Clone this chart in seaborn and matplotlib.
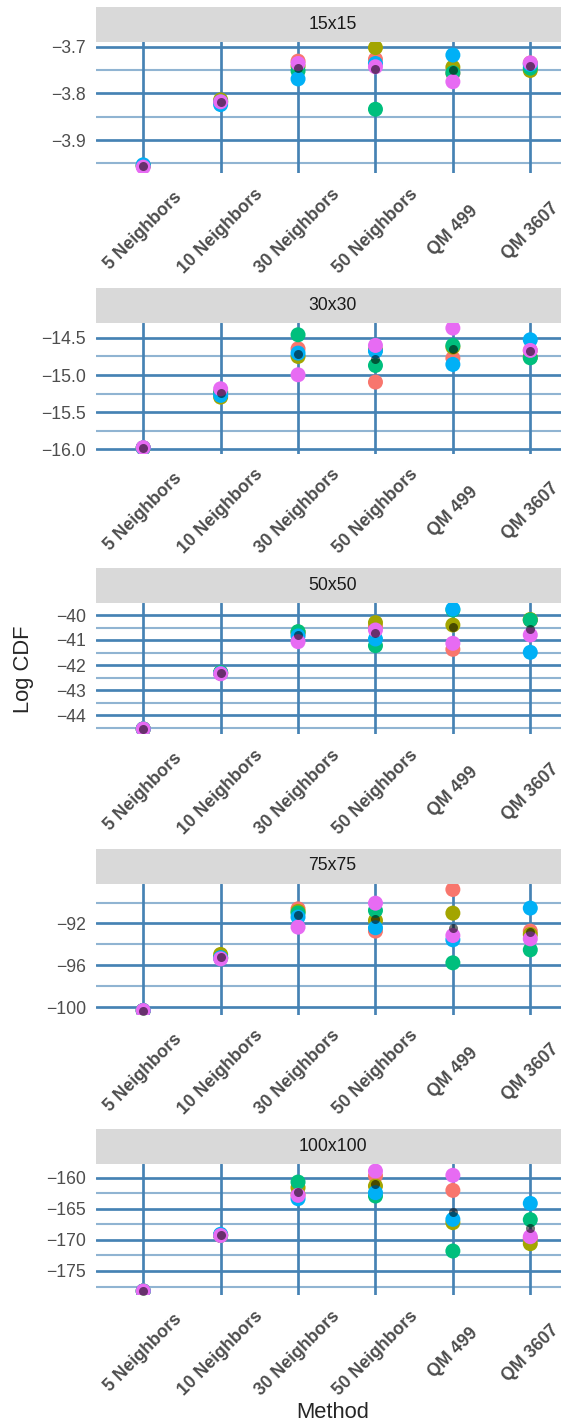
import matplotlib
matplotlib.use("Agg")
import matplotlib.pyplot as plt
import pandas as pd
import seaborn as sns

# --- data ---
methods = ["5 Neighbors", "10 Neighbors", "30 Neighbors", "50 Neighbors", "QM 499", "QM 3607"]
runs = ["1", "2", "3", "4", "5"]
palette = ["#F8766D", "#A3A500", "#00BF7D", "#00B0F6", "#E76BF3"]
grid_sizes = ["15x15", "30x30", "50x50", "75x75", "100x100"]

# one row per run, one column per method
vals_15 = [
    [-3.955, -3.818, -3.731, -3.727, -3.757, -3.735],
    [-3.955, -3.814, -3.742, -3.702, -3.744, -3.751],
    [-3.955, -3.818, -3.752, -3.834, -3.756, -3.746],
    [-3.953, -3.824, -3.769, -3.736, -3.718, -3.738],
    [-3.958, -3.818, -3.736, -3.743, -3.775, -3.735],
]
vals_30 = [
    [-15.98, -15.23, -14.648, -15.095, -14.773, -14.67],
    [-15.98, -15.297, -14.751, -14.66, -14.625, -14.759],
    [-15.98, -15.23, -14.46, -14.872, -14.603, -14.769],
    [-15.98, -15.274, -14.706, -14.679, -14.858, -14.527],
    [-15.975, -15.185, -14.997, -14.603, -14.37, -14.67],
]
vals_50 = [
    [-44.56, -42.33, -40.75, -40.47, -41.373, -40.2],
    [-44.56, -42.30, -40.68, -40.307, -40.4, -40.18],
    [-44.56, -42.30, -40.667, -41.227, -39.8, -40.2],
    [-44.56, -42.33, -40.84, -40.96, -39.76, -41.493],
    [-44.56, -42.35, -41.067, -40.6, -41.133, -40.8],
]
vals_75 = [
    [-100.32, -95.28, -90.6, -92.73, -88.75, -92.73],
    [-100.32, -94.96, -90.85, -91.71, -91.01, -93.05],
    [-100.32, -95.28, -91.0, -90.76, -95.76, -94.52],
    [-100.32, -95.28, -91.39, -92.41, -93.56, -90.53],
    [-100.32, -95.38, -92.35, -90.06, -93.15, -93.47],
]
vals_100 = [
    [-178.22, -169.27, -162.73, -159.72, -162.04, -169.77],
    [-178.22, -169.27, -161.6, -161.34, -167.23, -170.61],
    [-178.22, -169.27, -160.7, -162.95, -171.79, -166.75],
    [-178.22, -169.1, -163.38, -162.41, -166.7, -164.13],
    [-178.22, -169.3, -162.84, -158.93, -159.62, -169.49],
]
all_vals = [vals_15, vals_30, vals_50, vals_75, vals_100]

# y scales of each facet (free scales)
y_limits = [(-3.9705, -3.690), (-16.054, -14.295), (-44.76, -39.52),
            (-100.70, -88.18), (-178.86, -157.80)]
y_major = [[-3.9, -3.8, -3.7], [-16.0, -15.5, -15.0, -14.5], [-44, -43, -42, -41, -40],
           [-100, -96, -92], [-175, -170, -165, -160]]
y_minor = [[-3.95, -3.85, -3.75], [-15.75, -15.25, -14.75],
           [-44.5, -43.5, -42.5, -41.5, -40.5], [-98, -94, -90],
           [-177.5, -172.5, -167.5, -162.5]]
y_fmt = ["{:.1f}", "{:.1f}", "{:.0f}", "{:.0f}", "{:.0f}"]

rows = []
for size, vals in zip(grid_sizes, all_vals):
    for run, row in zip(runs, vals):
        for m, v in zip(methods, row):
            rows.append({"size": size, "run": run, "method": m, "logcdf": v})
df = pd.DataFrame(rows)

sns.set_theme(style="white")
plt.rcParams["font.family"] = ["Liberation Sans", "DejaVu Sans"]

W, H = 561, 1426
fig = plt.figure(figsize=(W / 100, H / 100), dpi=100)

left, width = 96, 473
strip_tops = [7, 287.5, 568, 848.5, 1129]
strip_h, panel_h = 35, 131
grid_col = "#4682B4"

for i, size in enumerate(grid_sizes):
    st = strip_tops[i]
    ax = fig.add_axes([left / W, 1 - (st + strip_h + panel_h) / H, width / W, panel_h / H])
    d = df[df["size"] == size]

    sns.stripplot(data=d, x="method", y="logcdf", hue="run", hue_order=runs,
                  order=methods, palette=palette, jitter=False, size=10.8,
                  linewidth=0, legend=False, ax=ax)
    # run mean drawn on top as a small dark dot
    means = d.groupby("method")["logcdf"].mean().reindex(methods).reset_index()
    sns.stripplot(data=means, x="method", y="logcdf", order=methods, color="black",
                  alpha=0.55, size=6.5, jitter=False, linewidth=0, ax=ax)

    ax.set_xlim(-0.61, 5.5)
    ax.set_ylim(*y_limits[i])
    ax.set_yticks(y_major[i])
    ax.set_yticklabels([y_fmt[i].format(v).replace("-", "\u2212") for v in y_major[i]])
    ax.set_yticks(y_minor[i], minor=True)
    ax.set_xticks(range(len(methods)))
    ax.set_xticklabels(methods)

    ax.set_axisbelow(True)
    ax.grid(which="major", axis="both", color=grid_col, lw=1.95)
    ax.grid(which="minor", axis="y", color=grid_col, lw=1.5, alpha=0.6)
    for s in ax.spines.values():
        s.set_visible(False)
    ax.tick_params(axis="x", which="major", length=4, width=1.9, color="#333333", pad=37.8)
    ax.tick_params(axis="y", which="major", length=4, width=1.9, color="#333333",
                   pad=3.2, labelsize=12.67, labelcolor="#4D4D4D")
    ax.tick_params(which="minor", length=0)
    for lab in ax.get_xticklabels():
        lab.set_rotation(45)
        lab.set_ha("center")
        lab.set_va("center")
        lab.set_fontweight("bold")
        lab.set_color("#4D4D4D")
        lab.set_fontsize(12.67)
    ax.set_xlabel("")
    ax.set_ylabel("")

    # facet strip
    sax = fig.add_axes([left / W, 1 - (st + strip_h) / H, width / W, strip_h / H])
    sax.set_facecolor("#D9D9D9")
    sax.set_xticks([])
    sax.set_yticks([])
    for s in sax.spines.values():
        s.set_visible(False)
    sax.text(0.5, 0.5, size, ha="center", va="center", fontsize=12.67,
             color="#1A1A1A", transform=sax.transAxes)

fig.text(333 / W, 1 - 1413 / H, "Method", ha="center", va="center", fontsize=15.8)
fig.text(24 / W, 1 - 669 / H, "Log CDF", ha="center", va="center", rotation=90, fontsize=15.8)

fig.savefig("out.png", dpi=100)
